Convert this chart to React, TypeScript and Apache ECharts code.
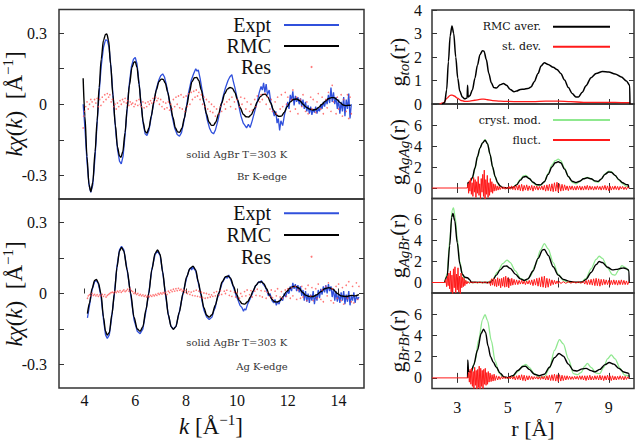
import React, { useEffect, useRef } from "react";
import * as echarts from "echarts";

// ---------------- Left panels: k-space EXAFS ----------------
const kTicks = [4, 6, 8, 10, 12, 14];
const chiTicks = [-0.3, -0.15, 0, 0.15, 0.3];
const chiLabels = [-0.3, 0, 0.3];

// Br K-edge
const brExpt = [
  [3.95,0.0],[4.02,-0.1],[4.1,-0.24],[4.18,-0.34],[4.25,-0.372],[4.33,-0.34],[4.42,-0.22],[4.5,-0.08],[4.58,0.05],[4.66,0.16],[4.75,0.24],[4.83,0.272],[4.9,0.27],[4.97,0.24],[5.05,0.15],[5.13,0.03],[5.22,-0.1],[5.3,-0.19],[5.38,-0.24],[5.45,-0.252],[5.52,-0.22],[5.6,-0.13],[5.68,-0.02],[5.76,0.08],[5.85,0.16],[5.93,0.19],[6.0,0.198],[6.07,0.17],[6.15,0.09],[6.23,0.0],[6.31,-0.08],[6.39,-0.125],[6.46,-0.132],[6.54,-0.11],[6.62,-0.06],[6.72,0.0],[6.82,0.06],[6.92,0.1],[7.0,0.12],[7.08,0.128],[7.15,0.115],[7.25,0.07],[7.35,0.01],[7.45,-0.05],[7.55,-0.1],[7.65,-0.128],[7.74,-0.135],[7.82,-0.12],[7.9,-0.08],[8.0,-0.02],[8.1,0.05],[8.2,0.1],[8.3,0.13],[8.38,0.15],[8.43,0.14],[8.48,0.145],[8.55,0.11],[8.63,0.06],[8.72,0.0],[8.82,-0.06],[8.92,-0.1],[9.0,-0.118],[9.08,-0.125],[9.15,-0.11],[9.25,-0.07],[9.35,-0.02],[9.45,0.03],[9.55,0.07],[9.65,0.1],[9.72,0.115],[9.8,0.125],[9.85,0.1],[9.92,0.07],[10.0,0.03],[10.08,-0.01],[10.16,-0.05],[10.25,-0.08],[10.32,-0.09],[10.38,-0.1],[10.45,-0.085],[10.52,-0.098],[10.6,-0.07],[10.7,-0.03],[10.8,0.01],[10.88,0.05],[10.95,0.075],[11.0,0.06],[11.05,0.09],[11.1,0.05],[11.15,0.085],[11.2,0.04],[11.27,0.06],[11.33,0.01],[11.4,-0.02],[11.47,-0.05],[11.53,-0.03],[11.58,-0.08],[11.63,-0.06],[11.68,-0.11],[11.73,-0.07],[11.8,-0.09],[11.88,-0.04],[11.95,-0.01],[12.0,0.01],[12.05,-0.02],[12.1,0.04],[12.15,0.015],[12.2,0.055],[12.25,-0.005],[12.3,0.035],[12.35,0.01],[12.4,0.03],[12.45,0.0],[12.5,0.025],[12.55,-0.01],[12.6,0.02],[12.65,-0.02],[12.7,0.01],[12.75,-0.03],[12.8,-0.005],[12.85,-0.04],[12.9,-0.01],[12.95,-0.045],[13.0,-0.02],[13.05,-0.035],[13.1,-0.01],[13.15,-0.04],[13.2,-0.015],[13.25,-0.03],[13.3,0.0],[13.35,-0.02],[13.4,0.01],[13.45,-0.01],[13.5,0.02],[13.55,0.0],[13.6,0.04],[13.65,0.005],[13.7,0.07],[13.75,0.01],[13.8,0.05],[13.85,0.0],[13.9,0.03],[13.95,-0.02],[14.0,0.02],[14.05,-0.04],[14.1,0.01],[14.15,-0.03],[14.2,0.03],[14.25,-0.05],[14.3,0.02],[14.35,-0.02],[14.4,0.045],[14.45,-0.06],[14.5,0.0]
];
const brRmc = [
  [3.95,0.11],[4.02,-0.05],[4.1,-0.22],[4.18,-0.34],[4.25,-0.369],[4.33,-0.33],[4.42,-0.2],[4.5,-0.07],[4.58,0.07],[4.66,0.19],[4.75,0.27],[4.83,0.295],[4.88,0.297],[4.95,0.27],[5.03,0.17],[5.12,0.04],[5.22,-0.09],[5.3,-0.18],[5.38,-0.218],[5.44,-0.224],[5.51,-0.2],[5.6,-0.12],[5.68,-0.02],[5.77,0.08],[5.87,0.155],[5.95,0.178],[6.0,0.18],[6.07,0.155],[6.15,0.085],[6.23,0.0],[6.31,-0.075],[6.39,-0.115],[6.46,-0.122],[6.54,-0.1],[6.63,-0.05],[6.73,0.01],[6.83,0.06],[6.93,0.095],[7.02,0.106],[7.1,0.105],[7.18,0.09],[7.28,0.05],[7.38,0.0],[7.48,-0.055],[7.58,-0.1],[7.67,-0.117],[7.75,-0.118],[7.84,-0.1],[7.93,-0.06],[8.03,-0.005],[8.13,0.05],[8.23,0.095],[8.33,0.112],[8.42,0.113],[8.5,0.1],[8.6,0.06],[8.7,0.01],[8.8,-0.04],[8.9,-0.075],[9.0,-0.089],[9.08,-0.089],[9.17,-0.075],[9.28,-0.04],[9.4,0.005],[9.52,0.045],[9.63,0.065],[9.73,0.071],[9.82,0.068],[9.92,0.05],[10.02,0.02],[10.13,-0.015],[10.25,-0.042],[10.36,-0.053],[10.46,-0.054],[10.56,-0.045],[10.68,-0.02],[10.8,0.01],[10.92,0.032],[11.02,0.041],[11.12,0.042],[11.22,0.03],[11.33,0.005],[11.44,-0.025],[11.55,-0.045],[11.65,-0.051],[11.75,-0.05],[11.86,-0.035],[11.98,-0.01],[12.1,0.01],[12.22,0.02],[12.35,0.022],[12.48,0.015],[12.6,0.0],[12.72,-0.012],[12.85,-0.02],[12.98,-0.024],[13.1,-0.022],[13.22,-0.013],[13.35,0.0],[13.48,0.013],[13.6,0.023],[13.72,0.028],[13.82,0.028],[13.93,0.02],[14.05,0.008],[14.18,-0.003],[14.3,-0.006],[14.4,-0.004],[14.48,-0.005]
];
const brRes = [
  [3.95,-0.1],[3.97,-0.05],[4.0,-0.03],[4.05,-0.01],[4.1,0.01],[4.15,-0.02],[4.2,0.0],[4.25,0.02],[4.3,0.01],[4.35,-0.01],[4.4,0.02],[4.45,0.005],[4.5,0.025],[4.55,-0.01],[4.6,0.02],[4.65,-0.005],[4.7,0.03],[4.75,0.01],[4.8,0.04],[4.85,0.02],[4.9,0.045],[4.95,0.03],[5.0,0.04],[5.05,0.01],[5.1,0.02],[5.15,-0.01],[5.2,0.0],[5.25,-0.02],[5.3,0.005],[5.35,-0.01],[5.4,0.015],[5.45,0.0],[5.5,0.02],[5.55,0.01],[5.6,0.025],[5.65,0.005],[5.7,0.015],[5.75,-0.005],[5.8,0.01],[5.85,0.0],[5.9,0.005],[5.95,-0.01],[6.0,0.0],[6.05,0.015],[6.1,-0.005],[6.15,0.02],[6.2,0.0],[6.25,-0.01],[6.3,0.01],[6.35,-0.015],[6.4,0.005],[6.45,-0.01],[6.5,0.01],[6.55,0.0],[6.6,0.015],[6.65,0.005],[6.7,0.025],[6.75,0.01],[6.8,0.03],[6.85,0.015],[6.9,0.025],[6.95,0.0],[7.0,0.02],[7.05,-0.01],[7.1,0.01],[7.15,-0.02],[7.2,0.005],[7.25,-0.015],[7.3,0.01],[7.35,-0.025],[7.4,0.0],[7.45,-0.02],[7.5,0.02],[7.55,-0.01],[7.6,0.03],[7.65,0.0],[7.7,0.035],[7.75,-0.015],[7.8,0.04],[7.85,-0.02],[7.9,0.03],[7.95,-0.03],[8.0,0.035],[8.05,-0.01],[8.1,0.045],[8.15,0.0],[8.2,0.05],[8.25,0.02],[8.3,0.055],[8.35,0.03],[8.4,0.06],[8.45,0.035],[8.5,0.05],[8.55,0.02],[8.6,0.04],[8.65,0.0],[8.7,0.03],[8.75,-0.01],[8.8,0.02],[8.85,-0.02],[8.9,0.01],[8.95,-0.03],[9.0,0.0],[9.05,-0.035],[9.1,-0.01],[9.15,-0.05],[9.2,-0.02],[9.3,-0.04],[9.35,-0.01],[9.4,-0.03],[9.5,0.0],[9.55,-0.02],[9.6,0.01],[9.7,0.02],[9.75,-0.01],[9.8,0.03],[9.9,0.01],[9.95,-0.02],[10.0,0.02],[10.1,-0.01],[10.15,0.03],[10.2,0.0],[10.3,0.025],[10.35,-0.02],[10.4,0.01],[10.5,-0.03],[10.55,0.0],[10.6,-0.025],[10.7,0.02],[10.75,-0.01],[10.8,0.035],[10.9,0.01],[10.95,0.04],[11.0,0.02],[11.1,0.045],[11.15,0.0],[11.2,0.03],[11.3,-0.02],[11.35,0.02],[11.4,-0.03],[11.5,0.01],[11.55,-0.04],[11.6,0.03],[11.7,-0.02],[11.75,0.04],[11.8,-0.01],[11.9,0.05],[11.95,0.0],[12.0,0.03],[12.1,-0.03],[12.15,0.02],[12.2,0.06],[12.3,-0.02],[12.35,0.03],[12.4,-0.04],[12.5,0.02],[12.55,-0.01],[12.6,0.04],[12.7,-0.03],[12.75,0.01],[12.8,-0.04],[12.9,0.03],[12.95,-0.02],[13.0,0.02],[13.1,-0.035],[13.15,0.01],[13.2,0.045],[13.3,-0.02],[13.35,0.03],[13.4,-0.04],[13.5,0.02],[13.55,-0.015],[13.6,0.05],[13.7,-0.03],[13.75,0.08],[13.8,0.01],[13.9,-0.04],[13.95,0.03],[14.0,-0.02],[14.1,0.04],[14.15,-0.05],[14.2,0.02],[14.3,-0.03],[14.35,0.04],[14.4,-0.06],[14.45,0.03],[14.5,-0.04]
];

// Ag K-edge
const agExpt = [
  [4.12,-0.103],[4.2,-0.05],[4.3,0.015],[4.4,0.05],[4.47,0.055],[4.55,0.04],[4.65,-0.01],[4.75,-0.11],[4.83,-0.175],[4.9,-0.19],[4.98,-0.175],[5.08,-0.095],[5.18,0.0],[5.28,0.115],[5.38,0.185],[5.46,0.2],[5.55,0.185],[5.68,0.1],[5.82,-0.005],[5.95,-0.11],[6.08,-0.16],[6.19,-0.17],[6.3,-0.15],[6.42,-0.075],[6.53,0.0],[6.65,0.1],[6.78,0.165],[6.88,0.18],[6.98,0.16],[7.08,0.09],[7.19,-0.005],[7.3,-0.09],[7.41,-0.14],[7.5,-0.15],[7.6,-0.14],[7.73,-0.08],[7.88,0.0],[8.02,0.065],[8.12,0.1],[8.18,0.11],[8.22,0.1],[8.27,0.112],[8.33,0.102],[8.38,0.095],[8.48,0.045],[8.58,-0.005],[8.7,-0.07],[8.81,-0.1],[8.91,-0.11],[9.02,-0.1],[9.1,-0.07],[9.15,-0.06],[9.2,-0.03],[9.28,-0.005],[9.35,0.02],[9.42,0.045],[9.5,0.06],[9.55,0.07],[9.62,0.065],[9.68,0.078],[9.75,0.06],[9.87,0.025],[9.97,-0.01],[10.05,-0.03],[10.12,-0.05],[10.2,-0.06],[10.26,-0.075],[10.3,-0.065],[10.35,-0.07],[10.42,-0.045],[10.53,-0.02],[10.63,0.005],[10.72,0.03],[10.8,0.04],[10.86,0.05],[10.93,0.045],[10.96,0.055],[11.03,0.04],[11.1,0.03],[11.17,0.015],[11.24,-0.01],[11.3,0.0],[11.38,-0.03],[11.45,-0.04],[11.5,-0.025],[11.55,-0.05],[11.6,-0.035],[11.66,-0.045],[11.72,-0.02],[11.8,-0.03],[11.86,0.0],[11.92,-0.015],[11.98,0.01],[12.05,0.0],[12.1,0.03],[12.15,0.01],[12.2,0.045],[12.25,0.02],[12.3,0.04],[12.35,0.01],[12.4,0.035],[12.45,0.005],[12.5,0.03],[12.55,-0.01],[12.6,0.015],[12.65,-0.03],[12.7,0.01],[12.75,-0.035],[12.8,0.0],[12.85,-0.04],[12.9,-0.005],[12.95,-0.03],[13.0,0.01],[13.05,-0.045],[13.1,-0.005],[13.15,-0.03],[13.2,0.015],[13.25,-0.02],[13.3,0.02],[13.35,-0.005],[13.4,0.03],[13.45,0.005],[13.5,0.035],[13.55,0.0],[13.6,0.04],[13.65,0.01],[13.7,0.03],[13.75,-0.015],[13.8,0.02],[13.85,-0.03],[13.9,0.01],[13.95,-0.035],[14.0,0.0],[14.05,-0.04],[14.1,0.005],[14.15,-0.03],[14.2,0.01],[14.25,-0.045],[14.3,-0.005],[14.35,-0.035],[14.4,0.01],[14.45,-0.05],[14.5,-0.01],[14.55,-0.03],[14.6,0.005],[14.65,-0.04],[14.7,-0.01],[14.75,-0.025],[14.8,-0.015]
];
const agRmc = [
  [4.12,-0.085],[4.2,-0.04],[4.3,0.02],[4.4,0.055],[4.47,0.06],[4.55,0.045],[4.65,0.0],[4.75,-0.1],[4.83,-0.16],[4.9,-0.176],[4.98,-0.165],[5.08,-0.09],[5.18,0.0],[5.28,0.11],[5.38,0.18],[5.46,0.195],[5.55,0.18],[5.68,0.1],[5.82,0.0],[5.95,-0.1],[6.08,-0.15],[6.19,-0.16],[6.3,-0.14],[6.42,-0.07],[6.53,0.0],[6.65,0.1],[6.78,0.17],[6.88,0.184],[6.98,0.165],[7.08,0.09],[7.19,0.0],[7.3,-0.09],[7.41,-0.14],[7.5,-0.152],[7.6,-0.14],[7.73,-0.08],[7.88,0.0],[8.02,0.07],[8.15,0.105],[8.27,0.116],[8.38,0.1],[8.48,0.05],[8.58,0.0],[8.7,-0.06],[8.81,-0.092],[8.91,-0.1],[9.02,-0.09],[9.15,-0.05],[9.28,0.0],[9.42,0.05],[9.55,0.071],[9.65,0.074],[9.75,0.065],[9.87,0.03],[9.97,0.0],[10.1,-0.03],[10.2,-0.043],[10.3,-0.045],[10.42,-0.035],[10.53,-0.015],[10.63,0.01],[10.75,0.035],[10.86,0.048],[10.96,0.05],[11.06,0.042],[11.17,0.02],[11.27,-0.005],[11.38,-0.025],[11.48,-0.035],[11.58,-0.036],[11.7,-0.03],[11.82,-0.012],[11.95,0.008],[12.08,0.022],[12.2,0.029],[12.31,0.03],[12.45,0.022],[12.58,0.005],[12.7,-0.007],[12.85,-0.013],[13.0,-0.013],[13.15,-0.005],[13.3,0.008],[13.45,0.02],[13.62,0.025],[13.78,0.018],[13.95,0.0],[14.1,-0.01],[14.3,-0.013],[14.5,-0.008],[14.65,-0.01],[14.8,-0.005]
];
const agRes = [
  [4.12,-0.02],[4.15,-0.01],[4.2,-0.005],[4.25,-0.01],[4.3,0.0],[4.35,-0.008],[4.4,-0.004],[4.45,-0.01],[4.5,-0.005],[4.55,-0.012],[4.6,-0.006],[4.65,-0.01],[4.7,-0.004],[4.75,-0.012],[4.8,-0.005],[4.85,-0.015],[4.9,-0.008],[4.95,-0.004],[5.0,0.0],[5.05,0.004],[5.1,0.006],[5.15,0.002],[5.2,0.008],[5.25,0.004],[5.3,0.01],[5.35,0.006],[5.4,0.012],[5.45,0.005],[5.5,0.01],[5.55,0.015],[5.6,0.008],[5.65,0.012],[5.7,0.018],[5.75,0.01],[5.8,0.02],[5.85,0.012],[5.9,0.008],[5.95,0.0],[6.0,0.004],[6.05,-0.004],[6.1,0.0],[6.15,-0.008],[6.2,-0.004],[6.25,-0.01],[6.3,-0.006],[6.35,-0.012],[6.4,-0.008],[6.45,-0.015],[6.5,-0.01],[6.55,-0.014],[6.6,-0.008],[6.65,-0.012],[6.7,-0.006],[6.75,-0.01],[6.8,-0.004],[6.85,-0.008],[6.9,0.0],[6.95,-0.004],[7.0,0.002],[7.05,-0.002],[7.1,0.004],[7.15,0.0],[7.2,0.006],[7.25,-0.004],[7.3,0.01],[7.35,0.004],[7.4,0.014],[7.45,0.008],[7.5,0.018],[7.55,0.01],[7.6,0.02],[7.65,0.012],[7.7,0.022],[7.75,0.014],[7.8,0.018],[7.85,0.01],[7.9,0.015],[7.95,0.005],[8.0,0.012],[8.05,0.0],[8.1,0.008],[8.15,-0.004],[8.2,0.006],[8.25,-0.008],[8.3,0.01],[8.35,-0.01],[8.4,0.014],[8.45,-0.012],[8.5,0.01],[8.55,-0.015],[8.6,0.006],[8.65,-0.018],[8.7,0.002],[8.75,-0.02],[8.8,0.0],[8.85,-0.018],[8.9,-0.004],[8.95,-0.015],[9.0,-0.006],[9.05,-0.012],[9.1,0.004],[9.15,-0.01],[9.2,0.008],[9.3,-0.006],[9.35,0.012],[9.4,-0.004],[9.5,0.01],[9.55,0.0],[9.6,0.014],[9.7,-0.008],[9.75,0.01],[9.8,-0.012],[9.9,0.006],[9.95,-0.015],[10.0,0.004],[10.1,-0.02],[10.15,0.0],[10.2,-0.012],[10.3,0.008],[10.35,-0.01],[10.4,0.015],[10.5,-0.005],[10.55,0.012],[10.6,-0.015],[10.7,0.01],[10.75,-0.008],[10.8,0.018],[10.9,-0.01],[10.95,0.012],[11.0,-0.015],[11.1,0.01],[11.15,-0.02],[11.2,0.005],[11.3,-0.012],[11.35,0.015],[11.4,-0.018],[11.5,0.01],[11.55,-0.01],[11.6,0.02],[11.7,-0.015],[11.75,0.008],[11.8,-0.02],[11.9,0.015],[11.95,-0.012],[12.0,0.02],[12.1,-0.02],[12.15,0.025],[12.2,-0.01],[12.3,0.03],[12.35,-0.025],[12.4,0.015],[12.5,-0.02],[12.55,0.03],[12.6,-0.015],[12.7,0.02],[12.75,-0.03],[12.8,0.035],[12.9,-0.01],[12.95,0.025],[13.0,-0.03],[13.1,0.02],[13.15,-0.02],[13.2,0.04],[13.3,-0.025],[13.35,0.015],[13.4,-0.035],[13.5,0.03],[13.55,-0.01],[13.6,0.045],[13.7,-0.03],[13.75,0.02],[13.8,-0.04],[13.9,0.03],[13.95,-0.02],[14.0,0.04],[14.1,-0.03],[14.15,0.025],[14.2,-0.045],[14.3,0.035],[14.35,-0.02],[14.4,0.05],[14.5,-0.035],[14.55,0.03],[14.6,-0.04],[14.7,0.045],[14.75,-0.025],[14.8,0.03]
];

// ---------------- Right panels: r-space g(r) ----------------
const rTicks = [3, 5, 7, 9];
const gTotTicks = [0, 1, 2, 3, 4];
const gPairTicks = [0, 2, 4, 6];

const gTotAver = [
  [2.4,0],[2.5,0.05],[2.58,0.6],[2.65,1.8],[2.72,2.9],[2.79,3.32],[2.86,3.0],[2.94,2.0],[3.02,1.1],[3.1,0.55],[3.2,0.3],[3.3,0.22],[3.39,0.26],[3.41,0.8],[3.43,0.3],[3.5,0.35],[3.6,0.6],[3.7,1.1],[3.8,1.65],[3.9,2.1],[4.0,2.27],[4.06,2.25],[4.15,1.9],[4.25,1.3],[4.35,0.9],[4.45,0.7],[4.55,0.68],[4.7,0.82],[4.83,0.87],[4.95,0.8],[5.1,0.62],[5.25,0.52],[5.35,0.55],[5.5,0.62],[5.65,0.63],[5.8,0.66],[5.92,0.72],[6.05,0.95],[6.2,1.3],[6.32,1.62],[6.45,1.76],[6.6,1.68],[6.8,1.56],[6.95,1.47],[7.1,1.3],[7.25,1.02],[7.4,0.7],[7.55,0.45],[7.7,0.3],[7.8,0.3],[7.95,0.5],[8.1,0.78],[8.3,1.12],[8.5,1.3],[8.75,1.38],[9.0,1.36],[9.25,1.28],[9.5,1.15],[9.7,0.98],[9.83,0.8],[9.84,0]
];
const gTotStd = [
  [2.3,0],[2.45,0.05],[2.6,0.25],[2.72,0.37],[2.8,0.38],[2.9,0.33],[3.0,0.25],[3.15,0.15],[3.3,0.11],[3.5,0.12],[3.7,0.16],[3.9,0.2],[4.05,0.21],[4.2,0.18],[4.4,0.14],[4.7,0.12],[5.0,0.11],[5.5,0.1],[6.0,0.1],[6.5,0.12],[7.0,0.12],[7.5,0.1],[8.0,0.07],[8.5,0.07],[9.0,0.07],[9.5,0.06],[9.83,0.06],[9.84,0]
];

const gAgAgRmc = [
  [3.41,0.0],[3.42,0.5],[3.5,0.55],[3.6,1.0],[3.7,1.9],[3.8,3.0],[3.9,3.8],[4.0,4.3],[4.1,4.55],[4.2,4.2],[4.3,3.2],[4.4,2.0],[4.5,1.1],[4.6,0.5],[4.7,0.2],[4.8,0.05],[5.0,0.0],[5.2,0.05],[5.35,0.3],[5.5,0.75],[5.62,1.05],[5.72,1.1],[5.85,0.9],[6.0,0.55],[6.15,0.32],[6.3,0.3],[6.45,0.6],[6.6,1.3],[6.75,2.0],[6.88,2.4],[7.0,2.5],[7.1,2.4],[7.25,1.8],[7.4,1.1],[7.55,0.65],[7.7,0.52],[7.85,0.65],[8.0,0.88],[8.15,0.97],[8.3,0.88],[8.45,0.68],[8.58,0.63],[8.7,0.85],[8.85,1.3],[9.0,1.53],[9.1,1.5],[9.25,1.2],[9.4,0.8],[9.55,0.5],[9.7,0.32],[9.78,0.3],[9.79,0]
];
const gAgAgCryst = [
  [3.45,0.3],[3.6,0.9],[3.7,1.8],[3.8,2.9],[3.9,3.8],[4.0,4.3],[4.1,4.6],[4.2,4.25],[4.3,3.2],[4.4,2.0],[4.5,1.05],[4.6,0.45],[4.7,0.15],[4.8,0.03],[5.0,0.0],[5.2,0.05],[5.35,0.35],[5.5,0.85],[5.62,1.15],[5.72,1.2],[5.85,0.95],[6.0,0.5],[6.15,0.25],[6.3,0.25],[6.45,0.6],[6.6,1.4],[6.75,2.2],[6.88,2.6],[7.0,2.75],[7.1,2.6],[7.25,1.9],[7.4,1.1],[7.55,0.55],[7.7,0.4],[7.85,0.6],[8.0,0.9],[8.15,1.02],[8.3,0.9],[8.45,0.62],[8.58,0.55],[8.7,0.85],[8.85,1.35],[9.0,1.6],[9.1,1.55],[9.25,1.2],[9.4,0.75],[9.55,0.4],[9.7,0.15],[9.8,0.1]
];
const gAgAgFluct = [
  [2.0,0],[3.4,0],[3.43,0.4],[3.45,-0.5],[3.48,0.7],[3.5,-0.3],[3.53,0.9],[3.56,-0.6],[3.59,0.5],[3.62,-0.8],[3.65,1.0],[3.68,-0.4],[3.71,0.8],[3.74,-0.9],[3.77,0.6],[3.8,-0.5],[3.83,1.1],[3.86,-0.7],[3.89,0.4],[3.92,-1.0],[3.95,0.9],[3.98,-0.4],[4.01,1.3],[4.04,-0.8],[4.07,1.7],[4.1,-1.2],[4.13,0.8],[4.16,-0.6],[4.19,1.2],[4.22,-0.9],[4.25,0.5],[4.28,-0.7],[4.31,0.9],[4.34,-0.4],[4.37,0.6],[4.4,-0.5],[4.43,0.4],[4.46,-0.3],[4.5,0.35],[4.54,-0.25],[4.58,0.2],[4.62,-0.2],[4.66,0.15],[4.7,-0.15],[4.75,0.12],[4.8,-0.1],[4.85,0.1],[4.9,-0.12],[4.95,0.08],[5.0,-0.1],[5.05,0.15],[5.1,-0.12],[5.15,0.2],[5.2,-0.15],[5.25,0.18],[5.3,-0.2],[5.35,0.25],[5.4,-0.2],[5.45,0.3],[5.5,-0.25],[5.55,0.35],[5.6,-0.3],[5.65,0.25],[5.7,-0.2],[5.75,0.3],[5.8,-0.25],[5.85,0.2],[5.9,-0.2],[5.95,0.25],[6.0,-0.3],[6.05,0.2],[6.1,-0.15],[6.15,0.2],[6.2,-0.2],[6.25,0.15],[6.3,-0.15],[6.35,0.2],[6.4,-0.2],[6.45,0.25],[6.5,-0.3],[6.55,0.3],[6.6,-0.25],[6.65,0.35],[6.7,-0.3],[6.75,0.4],[6.8,-0.35],[6.85,0.5],[6.9,-0.3],[6.95,0.55],[7.0,-0.4],[7.05,0.4],[7.1,-0.3],[7.15,0.35],[7.2,-0.25],[7.25,0.3],[7.3,-0.2],[7.35,0.2],[7.4,-0.25],[7.45,0.2],[7.5,-0.15],[7.55,0.2],[7.6,-0.2],[7.65,0.15],[7.7,-0.2],[7.75,0.2],[7.8,-0.15],[7.85,0.2],[7.9,-0.2],[7.95,0.15],[8.0,-0.2],[8.05,0.2],[8.1,-0.15],[8.15,0.25],[8.2,-0.2],[8.25,0.2],[8.3,-0.15],[8.35,0.15],[8.4,-0.2],[8.45,0.15],[8.5,-0.15],[8.55,0.2],[8.6,-0.15],[8.65,0.15],[8.7,-0.2],[8.75,0.2],[8.8,-0.15],[8.85,0.25],[8.9,-0.2],[8.95,0.2],[9.0,-0.25],[9.05,0.2],[9.1,-0.2],[9.15,0.15],[9.2,-0.15],[9.25,0.2],[9.3,-0.15],[9.35,0.15],[9.4,-0.2],[9.45,0.15],[9.5,-0.1],[9.55,0.15],[9.6,-0.15],[9.65,0.1],[9.7,-0.15],[9.75,0.12],[9.8,-0.05]
];

const gAgBrRmc = [
  [2.5,0],[2.6,0.6],[2.7,3.5],[2.78,6.2],[2.83,6.57],[2.9,5.9],[3.0,3.8],[3.1,1.8],[3.2,0.8],[3.3,0.5],[3.4,0.45],[3.5,0.25],[3.55,0.02],[4.3,0.0],[4.4,0.2],[4.55,0.7],[4.7,1.2],[4.85,1.55],[4.95,1.57],[5.1,1.35],[5.3,0.8],[5.5,0.35],[5.65,0.2],[5.8,0.35],[6.0,1.1],[6.2,2.3],[6.38,3.1],[6.45,3.15],[6.6,2.6],[6.8,1.5],[7.0,0.7],[7.2,0.3],[7.45,0.1],[7.7,0.02],[7.95,0.05],[8.1,0.3],[8.3,0.95],[8.5,1.7],[8.62,2.0],[8.75,1.9],[8.95,1.45],[9.15,1.2],[9.3,1.25],[9.5,1.36],[9.6,1.38],[9.75,1.25],[9.8,1.1],[9.81,0]
];
const gAgBrCryst = [
  [2.5,0],[2.6,0.8],[2.7,4.0],[2.8,6.9],[2.85,7.1],[2.92,6.2],[3.0,4.2],[3.1,2.0],[3.2,0.8],[3.3,0.2],[3.4,0.02],[3.6,0],[4.2,0],[4.4,0.3],[4.6,1.0],[4.8,1.8],[4.97,2.14],[5.1,1.9],[5.3,1.1],[5.5,0.4],[5.7,0.15],[5.9,0.6],[6.1,1.7],[6.3,3.1],[6.45,3.7],[6.6,3.2],[6.8,1.9],[7.0,0.8],[7.2,0.2],[7.4,0.02],[7.9,0],[8.1,0.4],[8.3,1.3],[8.5,2.2],[8.62,2.5],[8.75,2.3],[8.95,1.4],[9.15,0.75],[9.25,0.7],[9.4,1.2],[9.52,1.6],[9.65,1.45],[9.8,1.05]
];
const gAgBrFluct = [
  [2.0,0],[2.52,0],[2.55,0.3],[2.58,-0.4],[2.61,0.6],[2.64,-0.3],[2.67,0.9],[2.7,-0.6],[2.73,1.1],[2.76,-0.9],[2.79,0.7],[2.82,-1.2],[2.85,1.3],[2.88,-0.5],[2.91,1.5],[2.94,-1.0],[2.97,0.8],[3.0,-0.7],[3.03,1.4],[3.06,-0.9],[3.09,0.6],[3.12,-1.1],[3.15,0.9],[3.18,-0.5],[3.21,0.5],[3.24,-0.4],[3.27,0.4],[3.3,-0.3],[3.34,0.2],[3.38,-0.15],[3.42,0.1],[3.48,-0.08],[3.55,0.06],[3.62,-0.05],[3.7,0.05],[3.8,-0.04],[3.9,0.05],[4.0,-0.05],[4.1,0.06],[4.2,-0.08],[4.28,0.1],[4.32,-0.3],[4.36,0.35],[4.4,-0.25],[4.44,0.4],[4.48,-0.35],[4.52,0.3],[4.56,-0.4],[4.6,0.45],[4.64,-0.3],[4.68,0.35],[4.72,-0.5],[4.76,0.4],[4.8,-0.35],[4.84,0.5],[4.88,-0.45],[4.92,0.6],[4.96,-0.4],[5.0,0.45],[5.04,-0.5],[5.08,0.35],[5.12,-0.3],[5.16,0.4],[5.2,-0.25],[5.25,0.3],[5.3,-0.2],[5.35,0.25],[5.4,-0.2],[5.45,0.2],[5.5,-0.15],[5.55,0.2],[5.6,-0.15],[5.65,0.15],[5.7,-0.2],[5.75,0.15],[5.8,-0.15],[5.85,0.2],[5.9,-0.2],[5.95,0.25],[6.0,-0.3],[6.05,0.3],[6.1,-0.25],[6.15,0.4],[6.2,-0.35],[6.25,0.45],[6.3,-0.4],[6.35,0.55],[6.4,-0.45],[6.45,0.6],[6.5,-0.5],[6.55,0.4],[6.6,-0.45],[6.65,0.35],[6.7,-0.3],[6.75,0.25],[6.8,-0.2],[6.85,0.2],[6.9,-0.15],[6.95,0.15],[7.0,-0.12],[7.05,0.1],[7.1,-0.1],[7.2,0.08],[7.3,-0.08],[7.4,0.07],[7.5,-0.06],[7.6,0.06],[7.7,-0.05],[7.8,0.06],[7.9,-0.06],[8.0,0.1],[8.05,-0.15],[8.1,0.2],[8.15,-0.2],[8.2,0.25],[8.25,-0.2],[8.3,0.3],[8.35,-0.25],[8.4,0.35],[8.45,-0.3],[8.5,0.4],[8.55,-0.3],[8.6,0.35],[8.65,-0.35],[8.7,0.3],[8.75,-0.25],[8.8,0.3],[8.85,-0.2],[8.9,0.25],[8.95,-0.2],[9.0,0.2],[9.05,-0.25],[9.1,0.2],[9.15,-0.2],[9.2,0.25],[9.25,-0.2],[9.3,0.2],[9.35,-0.25],[9.4,0.2],[9.45,-0.2],[9.5,0.25],[9.55,-0.2],[9.6,0.2],[9.65,-0.2],[9.7,0.15],[9.75,-0.2],[9.8,0.1]
];

const gBrBrRmc = [
  [3.41,0],[3.415,1.68],[3.45,0.6],[3.55,0.55],[3.65,1.2],[3.8,2.6],[3.95,4.2],[4.04,4.6],[4.12,4.3],[4.22,3.0],[4.32,2.0],[4.42,1.5],[4.55,1.0],[4.7,0.45],[4.85,0.1],[5.0,0.02],[5.2,0.2],[5.4,0.7],[5.6,1.08],[5.7,1.1],[5.85,0.8],[6.05,0.35],[6.25,0.2],[6.45,0.35],[6.65,1.0],[6.85,1.9],[7.03,2.3],[7.2,2.05],[7.4,1.3],[7.6,0.7],[7.75,0.65],[7.95,0.85],[8.1,0.9],[8.3,0.68],[8.45,0.57],[8.65,0.8],[8.85,1.25],[9.02,1.45],[9.2,1.3],[9.4,0.9],[9.6,0.55],[9.77,0.45],[9.8,0.4],[9.81,0]
];
const gBrBrCryst = [
  [3.45,0],[3.55,0.5],[3.7,1.5],[3.85,3.6],[4.0,5.5],[4.1,5.97],[4.2,5.4],[4.35,3.5],[4.5,1.6],[4.65,0.5],[4.8,0.1],[5.0,0.0],[5.2,0.1],[5.4,0.6],[5.6,1.15],[5.72,1.26],[5.85,1.0],[6.05,0.4],[6.25,0.05],[6.45,0.1],[6.65,0.9],[6.85,2.6],[7.05,3.6],[7.2,3.2],[7.4,1.8],[7.6,0.4],[7.75,0.3],[7.9,0.5],[8.05,1.1],[8.15,1.37],[8.3,1.0],[8.5,0.45],[8.64,0.4],[8.8,1.0],[8.95,1.8],[9.1,2.16],[9.25,1.8],[9.45,0.9],[9.63,0.25],[9.8,0.2]
];
const gBrBrFluct = [
  [2.0,0],[3.42,0],[3.45,0.5],[3.48,-0.4],[3.51,0.8],[3.54,-0.6],[3.57,0.9],[3.6,-0.8],[3.63,0.6],[3.66,-1.0],[3.69,1.0],[3.72,-0.7],[3.75,0.7],[3.78,-1.1],[3.81,0.8],[3.84,-0.9],[3.87,1.1],[3.9,-1.2],[3.93,0.9],[3.96,-0.8],[3.99,0.7],[4.02,-1.0],[4.05,0.8],[4.08,-0.6],[4.11,0.9],[4.14,-0.7],[4.17,0.5],[4.2,-0.6],[4.23,0.6],[4.26,-0.4],[4.3,0.45],[4.34,-0.35],[4.38,0.3],[4.42,-0.3],[4.46,0.35],[4.5,-0.25],[4.55,0.2],[4.6,-0.2],[4.65,0.15],[4.7,-0.15],[4.75,0.12],[4.8,-0.1],[4.85,0.1],[4.9,-0.08],[4.95,0.08],[5.0,-0.08],[5.05,0.1],[5.1,-0.1],[5.15,0.15],[5.2,-0.12],[5.25,0.15],[5.3,-0.2],[5.35,0.2],[5.4,-0.15],[5.45,0.25],[5.5,-0.2],[5.55,0.3],[5.6,-0.25],[5.65,0.25],[5.7,-0.3],[5.75,0.2],[5.8,-0.2],[5.85,0.2],[5.9,-0.15],[5.95,0.15],[6.0,-0.15],[6.05,0.12],[6.1,-0.1],[6.15,0.12],[6.2,-0.12],[6.25,0.1],[6.3,-0.15],[6.35,0.15],[6.4,-0.12],[6.45,0.15],[6.5,-0.2],[6.55,0.2],[6.6,-0.2],[6.65,0.25],[6.7,-0.25],[6.75,0.3],[6.8,-0.25],[6.85,0.35],[6.9,-0.3],[6.95,0.3],[7.0,-0.35],[7.05,0.3],[7.1,-0.3],[7.15,0.25],[7.2,-0.25],[7.25,0.2],[7.3,-0.2],[7.35,0.2],[7.4,-0.15],[7.45,0.15],[7.5,-0.15],[7.55,0.12],[7.6,-0.15],[7.65,0.15],[7.7,-0.12],[7.75,0.15],[7.8,-0.15],[7.85,0.2],[7.9,-0.15],[7.95,0.2],[8.0,-0.2],[8.05,0.2],[8.1,-0.25],[8.15,0.2],[8.2,-0.2],[8.25,0.25],[8.3,-0.2],[8.35,0.15],[8.4,-0.2],[8.45,0.2],[8.5,-0.15],[8.55,0.2],[8.6,-0.2],[8.65,0.25],[8.7,-0.2],[8.75,0.2],[8.8,-0.25],[8.85,0.2],[8.9,-0.2],[8.95,0.25],[9.0,-0.2],[9.05,0.2],[9.1,-0.25],[9.15,0.2],[9.2,-0.2],[9.25,0.15],[9.3,-0.2],[9.35,0.15],[9.4,-0.15],[9.45,0.2],[9.5,-0.15],[9.55,0.15],[9.6,-0.2],[9.65,0.15],[9.7,-0.15],[9.75,0.1],[9.8,-0.1]
];

// ---------------- styling ----------------
const FONT = "'Liberation Serif', 'Times New Roman', serif";
const SMALL = "'DejaVu Serif', serif";
const INK = "#111";
const BLUE = "#3050dc";
const RED = "#ff1a1a";
const DOT = "#ff4a4a";
const GREEN = "#8fe88f";

const GRIDS = [
  { left: 59, top: 9.5, width: 305, height: 189.5 },
  { left: 59, top: 199, width: 305, height: 189 },
  { left: 432, top: 10, width: 202, height: 94 },
  { left: 432, top: 104, width: 202, height: 94.5 },
  { left: 432, top: 198.5, width: 202, height: 94.5 },
  { left: 432, top: 293, width: 202, height: 95.5 },
];

function xAx(grid: number, min: number, max: number, ticks: number[], showTick: boolean, showLabel: boolean, margin: number, position = "bottom") {
  return {
    type: "value", gridIndex: grid, min, max, position,
    axisLine: { show: false }, splitLine: { show: false },
    axisTick: { show: showTick, inside: true, length: 5, customValues: ticks, lineStyle: { color: "#333", width: 1 } },
    axisLabel: { show: showLabel, customValues: ticks, margin, fontFamily: FONT, fontSize: 16, color: INK },
  };
}
function yAx(grid: number, min: number, max: number, ticks: number[], labels: number[], showLabel: boolean, margin: number, fontSize: number, position = "left") {
  return {
    type: "value", gridIndex: grid, min, max, position,
    axisLine: { show: false }, splitLine: { show: false },
    axisTick: { show: true, inside: true, length: 5, customValues: ticks, lineStyle: { color: "#333", width: 1 } },
    axisLabel: { show: showLabel, customValues: labels, margin, fontFamily: FONT, fontSize, color: INK },
  };
}
function ln(name: string, data: number[][], idx: number, color: string, width: number, smooth: number | boolean, z: number) {
  return {
    type: "line", name, data, xAxisIndex: idx, yAxisIndex: idx, showSymbol: false, symbol: "none",
    smooth, smoothMonotone: "x", color, lineStyle: { color, width }, itemStyle: { color }, z, silent: true,
  };
}
function dots(name: string, data: number[][], idx: number) {
  return {
    type: "scatter", name, data, xAxisIndex: idx, yAxisIndex: idx, symbol: "circle", symbolSize: 1.6,
    color: DOT, itemStyle: { color: DOT, opacity: 0.75 }, z: 5, silent: true,
  };
}

const RM = { fontFamily: FONT, fontSize: 23, lineHeight: 28, fill: INK, verticalAlign: "middle" };
const IT = { ...RM, fontStyle: "italic" };
const SUP = { fontFamily: FONT, fontSize: 15, lineHeight: 15, fill: INK, verticalAlign: "top" };
const RM2 = { fontFamily: FONT, fontSize: 22, lineHeight: 28, fill: INK, verticalAlign: "middle" };
const SUB = { fontFamily: FONT, fontSize: 15, lineHeight: 15, fill: INK, fontStyle: "italic", verticalAlign: "bottom" };
const RICH = { n: RM, i: IT, s: SUP, g: RM2, b: SUB };

function title(x: number, y: number, text: string, vertical: boolean) {
  return {
    type: "text", x, y, rotation: vertical ? Math.PI / 2 : 0, silent: true,
    style: { text, rich: RICH, align: "center", verticalAlign: "middle" },
  };
}
function note(x: number, y: number, text: string) {
  return {
    type: "text", x, y, silent: true,
    style: { text, fontFamily: SMALL, fontSize: 10, fill: "#333", align: "center", verticalAlign: "middle" },
  };
}

const bigLegend = {
  orient: "vertical", align: "right", padding: 0, itemGap: 0, selectedMode: false,
  itemWidth: 55, itemHeight: 2,
  textStyle: { fontFamily: FONT, fontSize: 20, color: INK, lineHeight: 21, padding: [0, 8, 0, 0] },
};
const smallLegend = {
  orient: "vertical", align: "right", padding: 0, itemGap: 0, selectedMode: false,
  itemWidth: 57, itemHeight: 2,
  textStyle: { fontFamily: SMALL, fontSize: 11, color: INK, lineHeight: 20, padding: [0, 7, 0, 0] },
};

export default function App() {
  const ref = useRef<HTMLDivElement>(null);
  useEffect(() => {
    const chart = echarts.init(ref.current!, null, { renderer: "svg" });
    const option: any = {
      animation: false,
      backgroundColor: "#fff",
      grid: GRIDS.map((g) => ({ ...g, show: true, borderColor: "#333", borderWidth: 1.5, backgroundColor: "transparent" })),
      xAxis: [
        xAx(0, 3, 15, kTicks, false, false, 4),
        xAx(1, 3, 15, kTicks, true, true, 4),
        xAx(2, 2, 10, rTicks, true, false, 11),
        xAx(3, 2, 10, rTicks, true, false, 11),
        xAx(4, 2, 10, rTicks, true, false, 11),
        xAx(5, 2, 10, rTicks, true, true, 11),
        xAx(2, 2, 10, rTicks, true, false, 11, "top"),
        xAx(3, 2, 10, rTicks, true, false, 11, "top"),
        xAx(4, 2, 10, rTicks, true, false, 11, "top"),
        xAx(5, 2, 10, rTicks, true, false, 11, "top"),
      ],
      yAxis: [
        yAx(0, -0.4, 0.4, chiTicks, chiLabels, true, 12, 16),
        yAx(1, -0.4, 0.4, chiTicks, chiLabels, true, 12, 16),
        yAx(2, 0, 4, gTotTicks, gTotTicks, true, 10, 16),
        yAx(3, -1, 8, gPairTicks, gPairTicks, true, 10, 16),
        yAx(4, -1, 8, gPairTicks, gPairTicks, true, 10, 16),
        yAx(5, -1, 8, gPairTicks, gPairTicks, true, 10, 16),
        yAx(0, -0.4, 0.4, chiTicks, chiLabels, false, 12, 16, "right"),
        yAx(1, -0.4, 0.4, chiTicks, chiLabels, false, 12, 16, "right"),
        yAx(2, 0, 4, gTotTicks, gTotTicks, false, 10, 16, "right"),
        yAx(3, -1, 8, gPairTicks, gPairTicks, false, 10, 16, "right"),
        yAx(4, -1, 8, gPairTicks, gPairTicks, false, 10, 16, "right"),
        yAx(5, -1, 8, gPairTicks, gPairTicks, false, 10, 16, "right"),
      ],
      legend: [
        { ...bigLegend, right: 298, top: 14.5, data: [{ name: "Expt", icon: "rect" }, { name: "RMC", icon: "rect" }, { name: "Res", icon: "circle" }] },
        { ...bigLegend, right: 298, top: 202.5, textStyle: { ...bigLegend.textStyle, lineHeight: 21.7 }, data: [{ name: "Expt", icon: "rect" }, { name: "RMC", icon: "rect" }, { name: "Res", icon: "circle" }] },
        { ...smallLegend, right: 27, top: 16.7, data: [{ name: "RMC aver.", icon: "rect" }, { name: "st. dev.", icon: "rect" }] },
        { ...smallLegend, right: 27, top: 110, data: [{ name: "cryst. mod.", icon: "rect" }, { name: "fluct.", icon: "rect" }] },
      ],
      series: [
        ln("Expt", brExpt, 0, BLUE, 1.3, false, 2),
        ln("RMC", brRmc, 0, "#000", 1.4, 0.3, 3),
        dots("Res", brRes, 0),
        ln("Expt", agExpt, 1, BLUE, 1.3, false, 2),
        ln("RMC", agRmc, 1, "#000", 1.4, 0.3, 3),
        dots("Res", agRes, 1),
        ln("RMC aver.", gTotAver, 2, "#000", 1.5, 0.3, 3),
        ln("st. dev.", gTotStd, 2, RED, 1.3, 0.3, 2),
        ln("cryst. mod.", gAgAgCryst, 3, GREEN, 1.3, 0.3, 1),
        ln("RMC aver.", gAgAgRmc, 3, "#000", 1.4, 0.3, 2),
        ln("fluct.", gAgAgFluct, 3, RED, 1, false, 3),
        ln("cryst. mod.", gAgBrCryst, 4, GREEN, 1.3, 0.3, 1),
        ln("RMC aver.", gAgBrRmc, 4, "#000", 1.4, 0.3, 2),
        ln("fluct.", gAgBrFluct, 4, RED, 1, false, 3),
        ln("cryst. mod.", gBrBrCryst, 5, GREEN, 1.3, 0.3, 1),
        ln("RMC aver.", gBrBrRmc, 5, "#000", 1.4, 0.3, 2),
        ln("fluct.", gBrBrFluct, 5, RED, 1, false, 3),
      ],
      graphic: [
        title(14, 104, "{i|kχ}{n|(}{i|k}{n|)  [Å}{s|−1}{n|]}", true),
        title(14, 294, "{i|kχ}{n|(}{i|k}{n|)  [Å}{s|−1}{n|]}", true),
        title(211, 426, "{i|k}{n| [Å}{s|−1}{n|]}", false),
        title(533, 428, "{g|r [Å]}", false),
        title(397, 62, "{g|g}{b|tot}{g|(r)}", true),
        title(397, 152, "{g|g}{b|AgAg}{g|(r)}", true),
        title(397, 246, "{g|g}{b|AgBr}{g|(r)}", true),
        title(397, 341, "{g|g}{b|BrBr}{g|(r)}", true),
        note(236.7, 154, "solid AgBr T=303 K"),
        note(262, 176.7, "Br K-edge"),
        note(236.7, 342.7, "solid AgBr T=303 K"),
        note(262, 366.7, "Ag K-edge"),
      ],
    };
    chart.setOption(option);
    return () => chart.dispose();
  }, []);
  return (
    <div
      ref={ref}
      style={{ position: "fixed", left: 0, top: 0, width: 637, height: 441, background: "#fff" }}
    />
  );
}
